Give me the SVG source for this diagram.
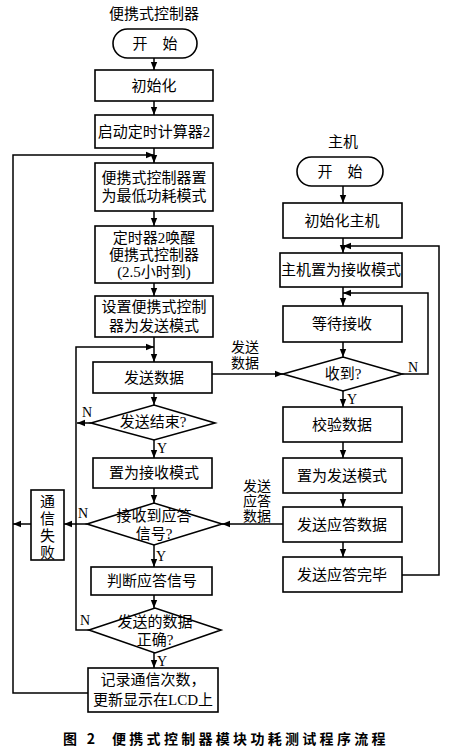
<svg xmlns="http://www.w3.org/2000/svg" width="450" height="751" viewBox="0 0 450 751">
<defs>
<marker id="ah" viewBox="0 0 10 10" refX="10" refY="5" markerWidth="8" markerHeight="8" markerUnits="userSpaceOnUse" orient="auto">
<path d="M0,1 L10,5 L0,9 Z" fill="#000"/>
</marker>
<style>
.s{fill:#fff;stroke:#000;stroke-width:1.6}
.t{font-family:"Liberation Serif","Noto Sans CJK SC",serif;font-size:15px;fill:#000;text-anchor:middle;dominant-baseline:central}
.l{font-family:"Liberation Serif","Noto Sans CJK SC",serif;font-size:14px;fill:#000;text-anchor:middle;dominant-baseline:central}
.c{fill:none;stroke:#000;stroke-width:1.5}
.a{fill:none;stroke:#000;stroke-width:1.5;marker-end:url(#ah)}
.cap{font-family:"Noto Sans CJK SC",sans-serif;font-size:14px;font-weight:bold;fill:#000;dominant-baseline:central;letter-spacing:3.3px}
</style>
</defs>
<rect width="450" height="751" fill="#fff"/>

<text class="t" x="154" y="14">便携式控制器</text>
<text class="t" x="343" y="142">主机</text>

<g id="connectors">
<!-- left column -->
<line class="a" x1="154" y1="58" x2="154" y2="70"/>
<line class="a" x1="154" y1="101" x2="154" y2="115"/>
<line class="a" x1="154" y1="148" x2="154" y2="163"/>
<polyline class="a" points="88,693 13,693 13,155 154,155"/>
<line class="a" x1="154" y1="211" x2="154" y2="226"/>
<line class="a" x1="154" y1="283" x2="154" y2="296"/>
<line class="a" x1="154" y1="337" x2="154" y2="362"/>
<polyline class="a" points="89,630 76,630 76,347 154,347"/>
<line class="a" x1="154" y1="393" x2="154" y2="405"/>
<line class="a" x1="91" y1="423" x2="77" y2="423"/>
<line class="a" x1="154" y1="440" x2="154" y2="458"/>
<line class="a" x1="154" y1="488" x2="154" y2="503"/>
<line class="a" x1="87" y1="524" x2="64" y2="524"/>
<line class="a" x1="31" y1="524" x2="13" y2="524"/>
<line class="a" x1="154" y1="545" x2="154" y2="567"/>
<line class="a" x1="154" y1="595" x2="154" y2="608"/>
<line class="a" x1="154" y1="653" x2="154" y2="668"/>
<line class="a" x1="212" y1="374" x2="283" y2="374"/>
<!-- right column -->
<line class="a" x1="343" y1="186" x2="343" y2="203"/>
<line class="a" x1="343" y1="238" x2="343" y2="253"/>
<line class="a" x1="343" y1="287" x2="343" y2="306"/>
<line class="a" x1="343" y1="342" x2="343" y2="357"/>
<line class="a" x1="343" y1="391" x2="343" y2="407"/>
<line class="a" x1="343" y1="442" x2="343" y2="458"/>
<line class="a" x1="343" y1="493" x2="343" y2="507"/>
<line class="a" x1="343" y1="542" x2="343" y2="557"/>
<polyline class="a" points="402,374 428,374 428,293 343,293"/>
<polyline class="a" points="402,575 439,575 439,246 343,246"/>
<line class="a" x1="283" y1="524" x2="222" y2="524"/>
<!-- labels -->
<text class="l" x="87" y="412">N</text>
<text class="l" x="162" y="448">Y</text>
<text class="l" x="83" y="513">N</text>
<text class="l" x="161" y="556">Y</text>
<text class="l" x="85" y="620">N</text>
<text class="l" x="162" y="661">Y</text>
<text class="l" x="245" y="347">发送</text>
<text class="l" x="245" y="363">数据</text>
<text class="l" x="413" y="367">N</text>
<text class="l" x="352" y="399">Y</text>
<text class="l" x="257" y="486">发送</text>
<text class="l" x="257" y="501">应答</text>
<text class="l" x="257" y="516">数据</text>
</g>

<g id="start1"><rect class="s" x="113" y="29" width="84" height="29" rx="14.5"/><text class="t" x="155" y="43.5">开　始</text></g>
<g id="init"><rect class="s" x="95" y="70" width="118" height="31"/><text class="t" x="154" y="85.5">初始化</text></g>
<g id="timer"><rect class="s" x="95" y="115" width="118" height="33"/><text class="t" x="154" y="131.5">启动定时计算器2</text></g>
<g id="lowpower"><rect class="s" x="95" y="163" width="118" height="48"/><text class="t" x="154" y="178">便携式控制器置</text><text class="t" x="154" y="196">为最低功耗模式</text></g>
<g id="wake"><rect class="s" x="95" y="226" width="118" height="57"/><text class="t" x="154" y="238">定时器2唤醒</text><text class="t" x="154" y="255">便携式控制器</text><text class="t" x="154" y="272">(2.5小时到)</text></g>
<g id="setsend"><rect class="s" x="95" y="296" width="118" height="41"/><text class="t" x="154" y="307">设置便携式控制</text><text class="t" x="154" y="326">器为发送模式</text></g>
<g id="senddata"><rect class="s" x="93" y="362" width="119" height="31"/><text class="t" x="154" y="377.5">发送数据</text></g>
<g id="sendend"><polygon class="s" points="91,423 154,405 215,423 154,440"/><text class="t" x="153" y="422">发送结束?</text></g>
<g id="setrecv"><rect class="s" x="93" y="458" width="119" height="30"/><text class="t" x="154" y="473">置为接收模式</text></g>
<g id="recvack"><polygon class="s" points="87,524 154,503 222,524 154,545"/><text class="t" x="154" y="516">接收到应答</text><text class="t" x="154" y="534">信号?</text></g>
<g id="fail"><rect class="s" x="31" y="490" width="33" height="70"/><text class="t" x="47.5" y="502">通</text><text class="t" x="47.5" y="519">信</text><text class="t" x="47.5" y="536">失</text><text class="t" x="47.5" y="553">败</text></g>
<g id="judge"><rect class="s" x="91" y="567" width="121" height="28"/><text class="t" x="152" y="581">判断应答信号</text></g>
<g id="correct"><polygon class="s" points="89,630 155,608 221,630 155,653"/><text class="t" x="155" y="622">发送的数据</text><text class="t" x="155" y="640">正确?</text></g>
<g id="record"><rect class="s" x="88" y="668" width="130" height="44"/><text class="t" x="153" y="680">记录通信次数，</text><text class="t" x="153" y="700">更新显示在LCD上</text></g>

<g id="start2"><rect class="s" x="297" y="157" width="86" height="29" rx="14.5"/><text class="t" x="340" y="171.5">开　始</text></g>
<g id="initHost"><rect class="s" x="283" y="203" width="119" height="35"/><text class="t" x="342" y="220.5">初始化主机</text></g>
<g id="hostRecv"><rect class="s" x="280" y="253" width="122" height="34"/><text class="t" x="341" y="270">主机置为接收模式</text></g>
<g id="wait"><rect class="s" x="283" y="306" width="119" height="36"/><text class="t" x="342" y="324">等待接收</text></g>
<g id="received"><polygon class="s" points="283,374 343,357 402,374 343,391"/><text class="t" x="343" y="374">收到?</text></g>
<g id="verify"><rect class="s" x="283" y="407" width="119" height="35"/><text class="t" x="342" y="424.5">校验数据</text></g>
<g id="setSendMode"><rect class="s" x="283" y="458" width="119" height="35"/><text class="t" x="342" y="475.5">置为发送模式</text></g>
<g id="sendAck"><rect class="s" x="283" y="507" width="119" height="35"/><text class="t" x="342" y="524.5">发送应答数据</text></g>
<g id="ackDone"><rect class="s" x="283" y="557" width="119" height="35"/><text class="t" x="342" y="574.5">发送应答完毕</text></g>

<text class="cap" x="63" y="738">图 2</text>
<text class="cap" x="112" y="738">便携式控制器模块功耗测试程序流程</text>
</svg>
